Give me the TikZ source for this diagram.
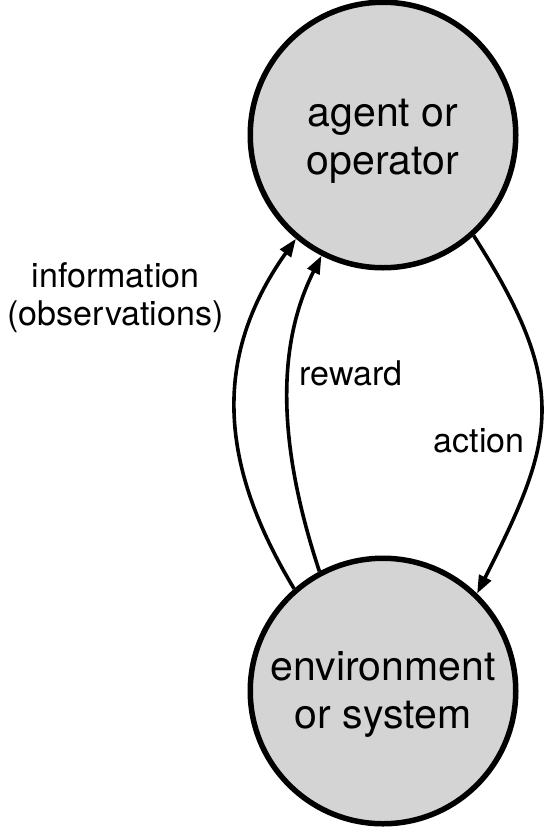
\documentclass[tikz,border=0pt]{standalone}
\usepackage{fontspec}
\setmainfont{TeX Gyre Heros}
\usetikzlibrary{arrows.meta}
\definecolor{nodefill}{RGB}{212,212,212}
\tikzset{
  state/.style={circle, draw=black, fill=nodefill, line width=5.5pt, minimum size=265.5pt, inner sep=0pt, align=center, font=\fontsize{41}{48}\selectfont},
  conn/.style={line width=3.6pt, -{Triangle[length=18pt,width=13pt]}},
  lbl/.style={inner sep=0pt, align=center, font=\fontsize{34}{38}\selectfont}
}
\begin{document}
\begin{tikzpicture}[x=1pt,y=-1pt]
\useasboundingbox (0,0) rectangle (544,830);
\node[state] (a) at (383,135) {\rule{0pt}{40pt}agent or\\operator};
\node[state] (b) at (383,691) {\rule{0pt}{36.5pt}environment\\or system};
\draw[conn] (b.131) .. controls +(-73,-121) and +(-86,121) .. (a.230);
\draw[conn] (b.118.6) .. controls +(-34,-103) and +(-52,103) .. (a.243.4);
\draw[conn] (a.312.6) .. controls +(98,153) and +(77,-153) .. (b.46.2);
\node[lbl] (info) at (115.5,297.5) {information\\(observations)};
\node[lbl, anchor=base] (rew) at (351,385) {reward};
\node[lbl, anchor=base] (act) at (479,452) {action};
\end{tikzpicture}
\end{document}
